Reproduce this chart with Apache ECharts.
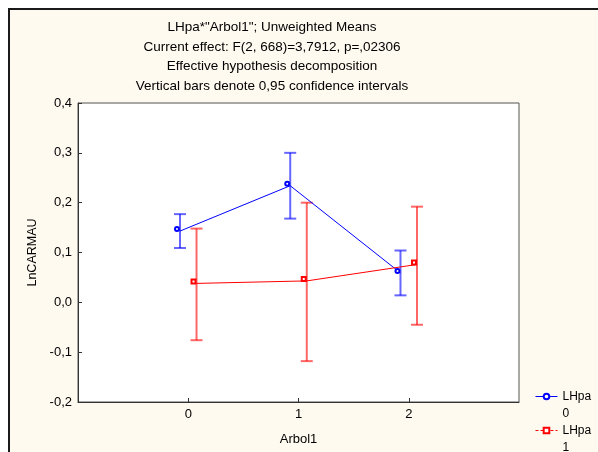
<!DOCTYPE html>
<html>
<head>
<meta charset="utf-8">
<script src="https://cdn.jsdelivr.net/npm/echarts@6/dist/echarts.min.js"></script>
<style>
  html, body { margin: 0; padding: 0; background: #ffffff; }
  #chart { width: 598px; height: 452px; }
</style>
</head>
<body>
<div id="chart"></div>
<script>
// Arbol1 levels on the x axis
const arbolLevels = [0, 1, 2];
const yTicks = [-0.2, -0.1, 0.0, 0.1, 0.2, 0.3, 0.4];

// LHpa = 0 : unweighted means of LnCARMAU with 95% CI limits
const meansLH0 = [0.143, 0.234, 0.059];
const lowerLH0 = [0.109, 0.168, 0.014];
const upperLH0 = [0.177, 0.300, 0.104];

// LHpa = 1
const meansLH1 = [0.038, 0.043, 0.076];
const lowerLH1 = [-0.076, -0.118, -0.045];
const upperLH1 = [0.148, 0.200, 0.192];

const groupNames = ['0', '1'];

const titleLines = [
  'LHpa*"Arbol1"; Unweighted Means',
  'Current effect: F(2, 668)=3,7912, p=,02306',
  'Effective hypothesis decomposition',
  'Vertical bars denote 0,95 confidence intervals'
];

const FONT = '"Liberation Sans", Arial, sans-serif';
const BLUE = '#0000ff';
const RED = '#ff0000';
const DODGE = 0.075; // horizontal shift so the two groups do not overlap

function points(means, shift) {
  return arbolLevels.map((c, i) => [c + shift, means[i]]);
}
function intervals(lo, hi, shift) {
  return arbolLevels.map((c, i) => [c + shift, lo[i], hi[i]]);
}
function errorBarRenderer(color) {
  return function (params, api) {
    const x = api.value(0);
    const top = api.coord([x, api.value(2)]);
    const bot = api.coord([x, api.value(1)]);
    const half = 6;
    const style = { stroke: color, lineWidth: 2, opacity: 0.6 };
    return {
      type: 'group',
      children: [
        { type: 'line', shape: { x1: top[0], y1: top[1], x2: bot[0], y2: bot[1] }, style },
        { type: 'line', shape: { x1: top[0] - half, y1: top[1], x2: top[0] + half, y2: top[1] }, style },
        { type: 'line', shape: { x1: bot[0] - half, y1: bot[1], x2: bot[0] + half, y2: bot[1] }, style }
      ]
    };
  };
}
// one legend block per group; the leading blank line puts "LHpa" level with the icon
function legendFor(name, top, color, dashed) {
  return {
    data: [name],
    left: 535,
    top: top,
    padding: 0,
    orient: 'vertical',
    itemWidth: 22,
    itemHeight: 7,
    formatter: ' \nLHpa\n{name}',
    lineStyle: { color: color, width: 1, type: dashed ? [3, 2] : 'solid' },
    textStyle: {
      fontFamily: FONT, fontSize: 12, color: '#000', lineHeight: 17
    }
  };
}

const chart = echarts.init(document.getElementById('chart'), null, { renderer: 'canvas' });

chart.setOption({
  backgroundColor: '#ffffff',
  animation: false,
  graphic: [{
    type: 'rect',
    z: -100,
    silent: true,
    shape: { x: 9, y: 9, width: 620, height: 470 },
    style: { fill: '#fffaf0', stroke: '#1a1a1a', lineWidth: 2 }
  }],
  title: {
    text: titleLines.join('\n'),
    left: 272,
    textAlign: 'center',
    top: 18,
    padding: 0,
    textStyle: {
      fontFamily: FONT, fontSize: 13.5, fontWeight: 'normal',
      color: '#000', lineHeight: 19.5
    }
  },
  legend: [
    legendFor(groupNames[0], 371, BLUE, false),
    legendFor(groupNames[1], 405, RED, true)
  ],
  grid: {
    left: 78, right: 79, top: 103, bottom: 50,
    show: true, backgroundColor: '#ffffff',
    borderColor: '#555', borderWidth: 1
  },
  xAxis: {
    type: 'value',
    min: -1, max: 3, interval: 1,
    name: 'Arbol1',
    nameLocation: 'middle',
    nameGap: 31,
    nameTextStyle: { fontFamily: FONT, fontSize: 13, color: '#000' },
    axisLine: { show: true, onZero: false, lineStyle: { color: '#333', width: 1 } },
    axisTick: { show: true, inside: true, length: 4, customValues: arbolLevels, lineStyle: { color: '#333' } },
    axisLabel: {
      customValues: arbolLevels,
      margin: 6,
      fontFamily: FONT, fontSize: 13, color: '#000',
      formatter: v => String(v)
    },
    splitLine: { show: false }
  },
  yAxis: {
    type: 'value',
    min: yTicks[0], max: yTicks[yTicks.length - 1], interval: 0.1,
    name: 'LnCARMAU',
    nameLocation: 'middle',
    nameGap: 39,
    nameTextStyle: { fontFamily: FONT, fontSize: 12.5, color: '#000' },
    axisLine: { show: true, onZero: false, lineStyle: { color: '#333', width: 1 } },
    axisTick: { show: true, inside: true, length: 4, lineStyle: { color: '#333' } },
    axisLabel: {
      margin: 6,
      fontFamily: FONT, fontSize: 13, color: '#000',
      formatter: v => (Math.round(v * 10) / 10).toFixed(1).replace('.', ',')
    },
    splitLine: { show: false }
  },
  series: [
    {
      type: 'custom',
      renderItem: errorBarRenderer(BLUE),
      data: intervals(lowerLH0, upperLH0, -DODGE),
      z: 2
    },
    {
      type: 'custom',
      renderItem: errorBarRenderer(RED),
      data: intervals(lowerLH1, upperLH1, DODGE),
      z: 2
    },
    {
      name: groupNames[0],
      type: 'line',
      data: points(meansLH0, -DODGE),
      color: BLUE,
      lineStyle: { color: BLUE, width: 1 },
      symbol: 'emptyCircle',
      symbolSize: 4,
      symbolOffset: [-3, -2],
      itemStyle: { color: BLUE, borderWidth: 1 },
      z: 3
    },
    {
      name: groupNames[1],
      type: 'line',
      data: points(meansLH1, DODGE),
      color: RED,
      lineStyle: { color: RED, width: 1 },
      symbol: 'emptyRect',
      symbolSize: 4,
      symbolOffset: [-3, -2],
      itemStyle: { color: RED, borderWidth: 1 },
      z: 3
    }
  ]
});
</script>
</body>
</html>
